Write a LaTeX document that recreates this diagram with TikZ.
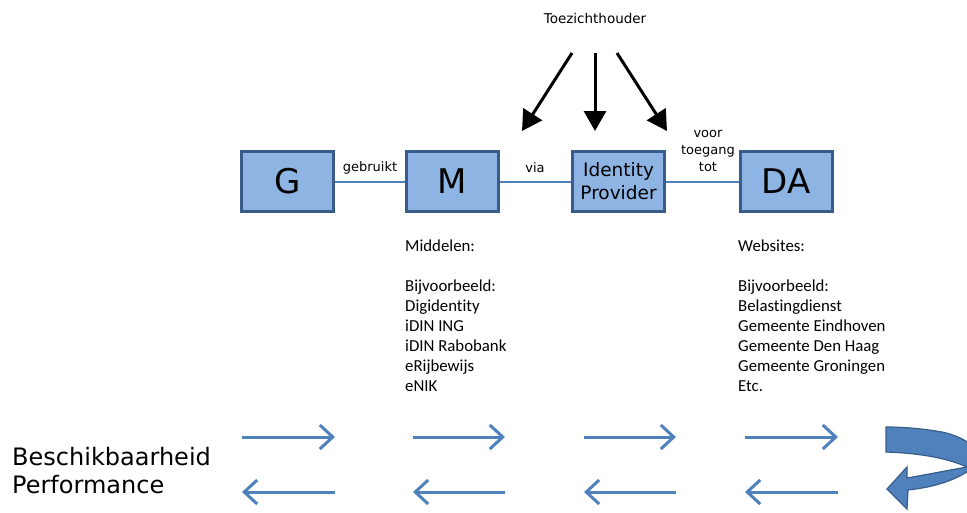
\documentclass[tikz,border=0pt]{standalone}
\usepackage{fontspec}
\setmainfont{DejaVu Sans}
\newfontfamily\listfont[Ligatures=NoCommon]{Carlito}
\usetikzlibrary{arrows.meta,positioning}
\definecolor{boxfill}{HTML}{8DB4E2}
\definecolor{boxline}{HTML}{385D8A}
\definecolor{linkblue}{HTML}{4F81BD}
\begin{document}
\begin{tikzpicture}[x=1pt,y=-1pt,
    blok/.style={draw=boxline,fill=boxfill,line width=3pt,minimum width=92pt,minimum height=60pt,inner sep=0pt},
    link/.style={draw=linkblue,line width=2pt},
    lbl/.style={font=\fontsize{13}{17}\selectfont,inner sep=0pt,align=center},
    lijst/.style={font=\listfont\fontsize{16.8}{20}\selectfont,align=left,anchor=north west,inner sep=0pt},
    flow/.style={linkblue,line width=3pt,-{Straight Barb[length=13pt,width=24pt,line width=3pt]}},
    toez/.style={line width=3pt,-{Triangle[length=20pt,width=22pt]}}]
    \useasboundingbox (0,0) rectangle (967,512);
    % the four blocks
    \node[blok,font=\fontsize{34}{34}\selectfont] (g) at (287.5,181.5) {G};
    \node[blok,font=\fontsize{34}{34}\selectfont] (m) at (452.5,181.5) {M};
    \node[blok,font=\fontsize{18.5}{23}\selectfont,align=center] (idp) at (618.5,181.5) {Identity\\Provider};
    \node[blok,font=\fontsize{34}{34}\selectfont] (da) at (786,181.5) {DA};
    \draw[link] (g) -- (m);
    \draw[link] (m) -- (idp);
    \draw[link] (idp) -- (da);
    \node[lbl] (gebruikt) at (370,168) {gebruikt};
    \node[lbl] (via) at (535,168) {via};
    \node[lbl] (voor) at (708,151) {voor\\toegang\\tot};
    % toezicht
    \node[lbl,font=\fontsize{13.5}{16}\selectfont] (toezicht) at (595,18) {Toezichthouder};
    \coordinate (t1) at (572,53);
    \coordinate (t2) at (595,53);
    \coordinate (t3) at (617,53);
    \coordinate (p1) at (522,131);
    \coordinate (p2) at (595,131);
    \coordinate (p3) at (667,131);
    \draw[toez] (t1) -- (p1);
    \draw[toez] (t2) -- (p2);
    \draw[toez] (t3) -- (p3);
    % lists
    \node[lijst] (middelen) at (405,240) {Middelen:\\[20pt]Bijvoorbeeld:\\Digidentity\\iDIN ING\\iDIN Rabobank\\eRijbewijs\\eNIK};
    \node[lijst] (websites) at (738,240) {Websites:\\[20pt]Bijvoorbeeld:\\Belastingdienst\\Gemeente Eindhoven\\Gemeente Den Haag\\Gemeente Groningen\\Etc.};
    % bottom row
    \node[anchor=north west,inner sep=0pt,align=left,font=\fontsize{24}{28}\selectfont] (beschik) at (12,447) {Beschikbaarheid\\Performance};
    \foreach \a/\b in {242/335,413/505,584/676,745/838} {
        \draw[flow] (\a,437) -- (\b,437);
        \draw[flow] (\b,492) -- (\a,492);
    }
    \begin{scope}
    \clip (0,0) rectangle (967,512);
    \filldraw[fill=linkblue,draw=boxline,line width=1.2pt]
        (886,427) -- (886,452) .. controls (915,453) and (945,457) .. (967,467)
        .. controls (950,470) and (930,474) .. (907,478) -- (907,467) -- (887,489)
        -- (907,509) -- (908,490) .. controls (935,487) and (958,480) .. (975,466)
        .. controls (985,450) and (965,437) .. (942,432)
        .. controls (925,429) and (905,427) .. (886,427) -- cycle;
    \end{scope}
\end{tikzpicture}
\end{document}
